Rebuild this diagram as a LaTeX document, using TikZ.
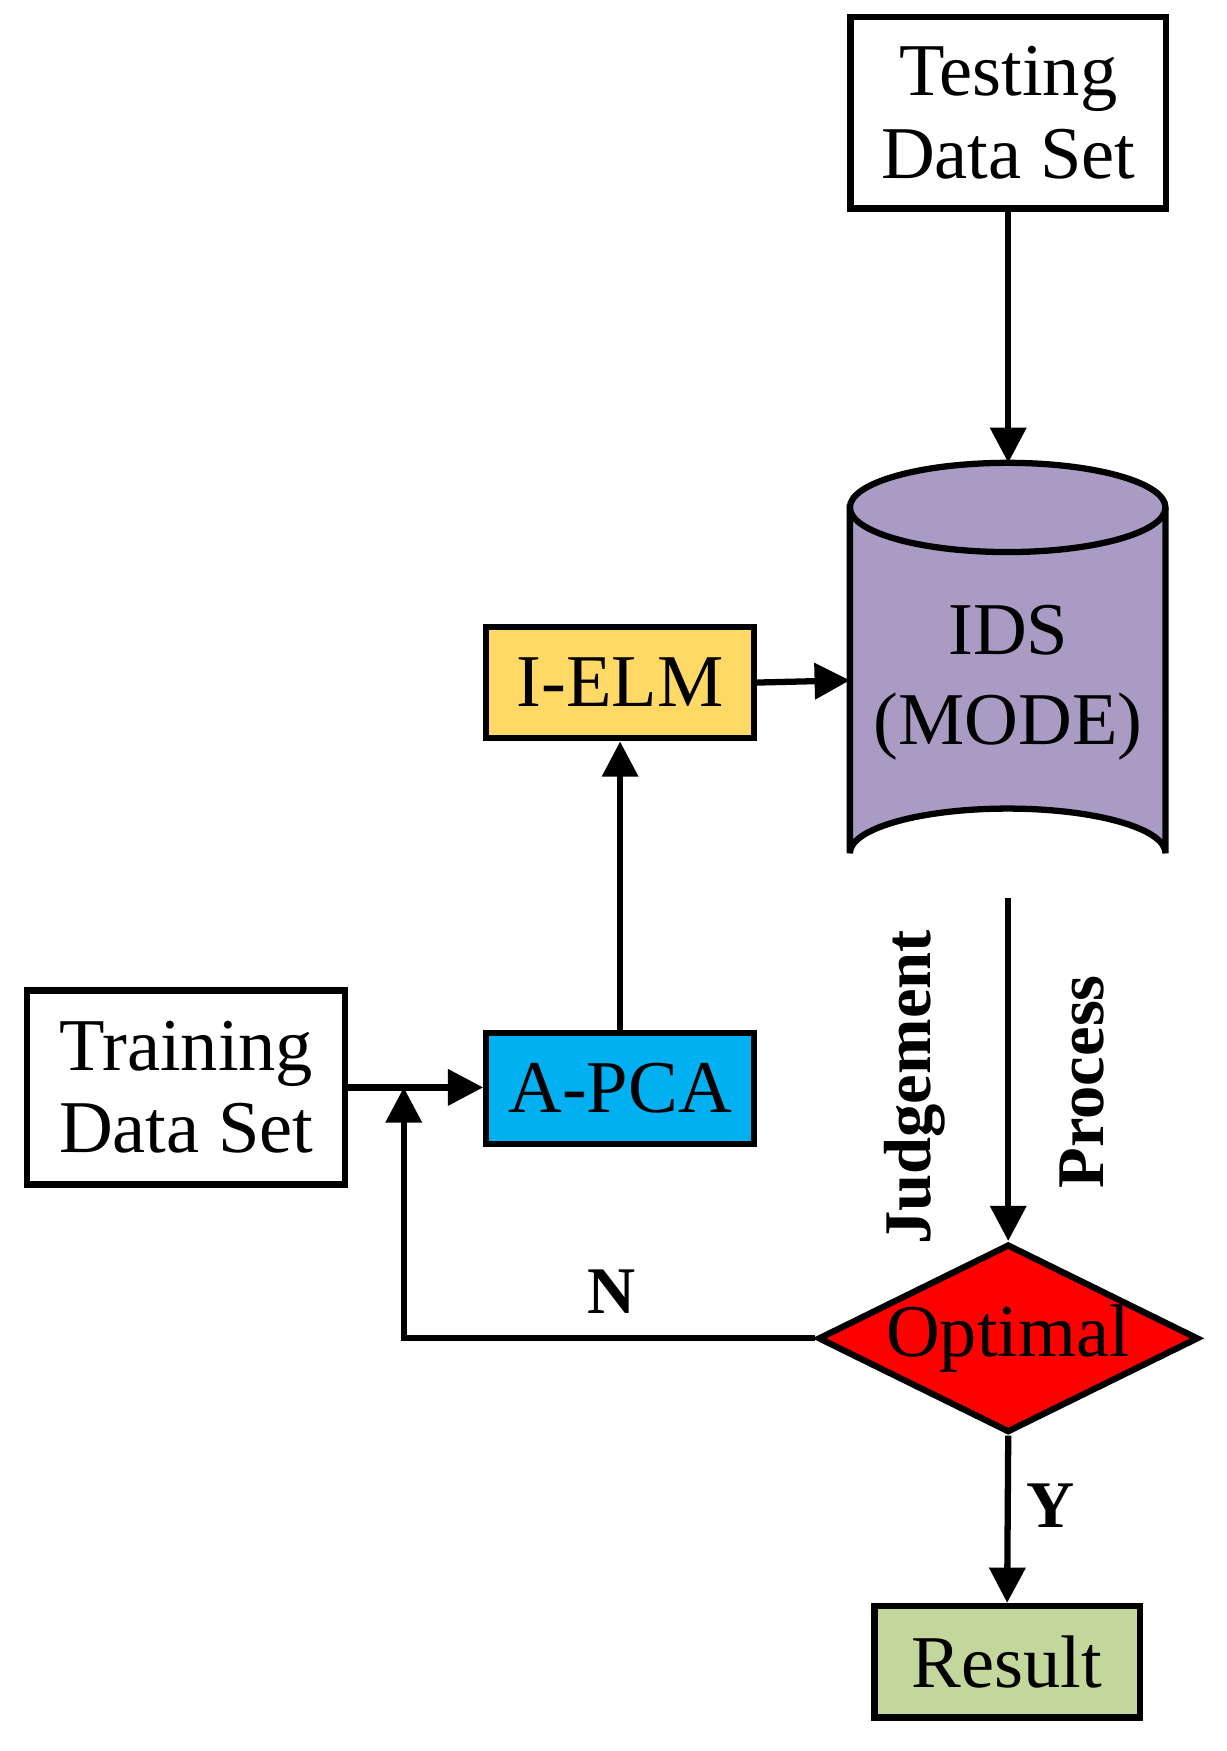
\documentclass[tikz,border=0pt]{standalone}
\usepackage{fontspec}
\setmainfont{Liberation Serif}
\usetikzlibrary{shapes.geometric,arrows.meta}
\begin{document}
\begin{tikzpicture}[x=0.1mm,y=-0.1mm,
 box/.style={draw,line width=1.6pt,inner sep=0pt,align=center,font=\fontsize{19}{21}\selectfont},
 arr/.style={line width=1.6pt,-{Triangle[length=9pt,width=9pt]}},
 lab/.style={font=\bfseries\fontsize{17}{19}\selectfont}]
\useasboundingbox (0,0) rectangle (1100,1570);
\definecolor{purp}{HTML}{A99BC4}
\definecolor{yel}{HTML}{FFD966}
\definecolor{cyanb}{HTML}{00B0F0}
\definecolor{grn}{HTML}{C3D69B}
\node[box,minimum width=283*0.1mm,minimum height=172*0.1mm] (test) at (904,101) {Testing\\Data Set};
\node[box,minimum width=285*0.1mm,minimum height=174*0.1mm] (train) at (167,975) {Training\\Data Set};
\node[box,fill=yel,minimum width=240*0.1mm,minimum height=100*0.1mm] (ielm) at (556,612) {I-ELM};
\node[box,fill=cyanb,minimum width=240*0.1mm,minimum height=100*0.1mm] (apca) at (556,976) {A-PCA};
\node[box,fill=grn,minimum width=238*0.1mm,minimum height=100*0.1mm] (res) at (903,1490) {Result};
\node[diamond,draw,line width=1.6pt,fill=red,aspect=2.02,minimum width=340*0.1mm,minimum height=168*0.1mm,inner sep=0pt,font=\fontsize{19}{21}\selectfont] (opt) at (904,1200) {Optimal};
% cylinder
\filldraw[fill=purp,line width=1.6pt] (762,455) -- (762,765) arc[start angle=180,end angle=360,x radius=141.5,y radius=40] -- (1045,455) arc[start angle=0,end angle=-180,x radius=141.5,y radius=40] -- cycle;
\draw[line width=1.6pt] (762,455) arc[start angle=180,end angle=0,x radius=141.5,y radius=40];
\node[align=center,font=\fontsize{19}{23}\selectfont] (ids) at (904,612) {IDS\\(MODE)};
\coordinate (cyltop) at (904,415);
\coordinate (cylbot) at (904,805);
\coordinate (cylleft) at (762,610);
\coordinate (join) at (362,975);
\coordinate (corner) at (362,1200);
\draw[arr] (test) -- (cyltop);
\draw[arr] (ielm.east) -- (cylleft);
\draw[arr] (apca) -- (ielm);
\draw[arr] (train.east |- join) -- (apca.west |- join);
\draw[arr] (cylbot) -- (opt.north);
\draw[arr] (opt.west) -- (corner) -- (join);
\draw[arr] (opt.south) -- (res.north);
\node[lab] (n) at (548,1158) {N};
\node[lab] (y) at (942,1350) {Y};
\node[lab,rotate=90] (judg) at (820,975) {Judgement};
\node[lab,rotate=90] (proc) at (970,970) {Process};
\end{tikzpicture}
\end{document}
